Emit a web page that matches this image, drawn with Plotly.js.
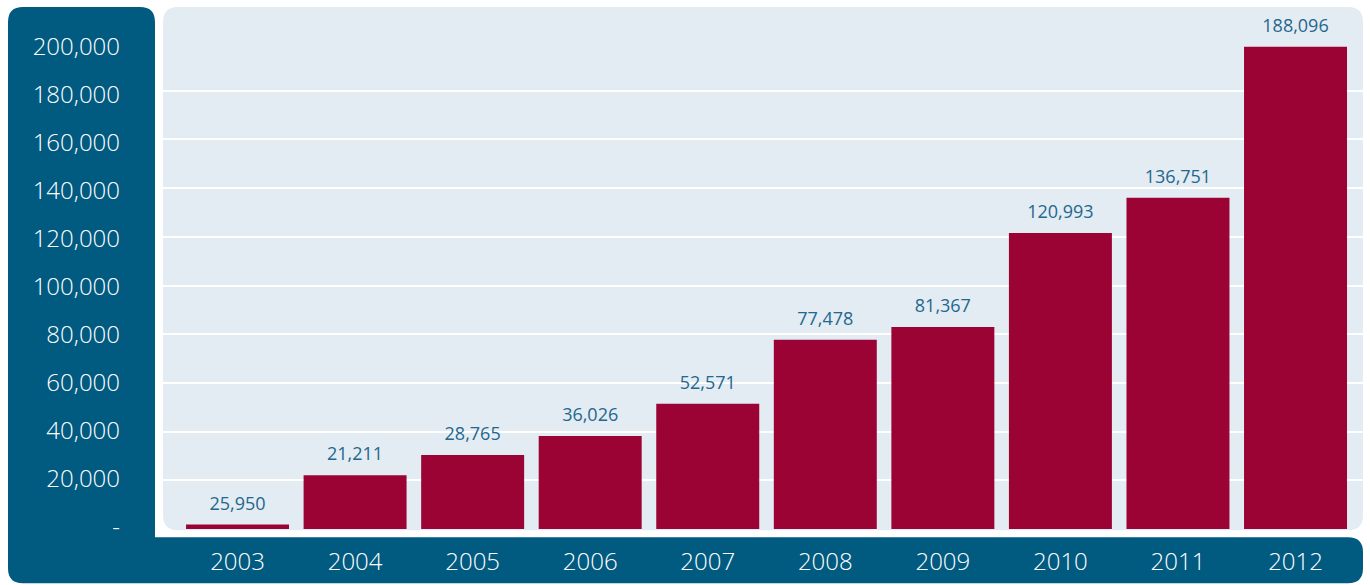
<!DOCTYPE html>
<html>
<head>
<meta charset="utf-8">
<script src="https://cdn.plot.ly/plotly-3.0.1.min.js"></script>
<style>html,body{margin:0;padding:0;background:#fff;overflow:hidden}#chart{width:1370px;height:585px}</style>
</head>
<body>
<div id="chart"></div>
<script>
// Data
var years = ['2003','2004','2005','2006','2007','2008','2009','2010','2011','2012'];
var barHeights = [1800, 22100, 30400, 38200, 51400, 77700, 83000, 121600, 136000, 198000];
var barLabels = ['25,950','21,211','28,765','36,026','52,571','77,478','81,367','120,993','136,751','188,096'];
var yTickVals = [0, 20000, 40000, 60000, 80000, 100000, 120000, 140000, 160000, 180000, 200000];
var yTickText = ['-', '20,000', '40,000', '60,000', '80,000', '100,000', '120,000', '140,000', '160,000', '180,000', '200,000'];

var W = 1370, H = 585;
var L = 163, R = 7, T = 42, B = 56.3;
var pw = W - L - R, ph = H - T - B;
function px(x) { return ((x - L) / pw).toFixed(5); }
function py(y) { return ((H - B - y) / ph).toFixed(5); }
function roundRect(x0, y0, x1, y1, r) {
  return 'M' + px(x0 + r) + ',' + py(y0) +
    ' L' + px(x1 - r) + ',' + py(y0) + ' Q' + px(x1) + ',' + py(y0) + ' ' + px(x1) + ',' + py(y0 + r) +
    ' L' + px(x1) + ',' + py(y1 - r) + ' Q' + px(x1) + ',' + py(y1) + ' ' + px(x1 - r) + ',' + py(y1) +
    ' L' + px(x0 + r) + ',' + py(y1) + ' Q' + px(x0) + ',' + py(y1) + ' ' + px(x0) + ',' + py(y1 - r) +
    ' L' + px(x0) + ',' + py(y0 + r) + ' Q' + px(x0) + ',' + py(y0) + ' ' + px(x0 + r) + ',' + py(y0) + ' Z';
}
var r = 15;
var darkPath =
  'M' + px(8 + r) + ',' + py(7) +
  ' L' + px(155 - r) + ',' + py(7) + ' Q' + px(155) + ',' + py(7) + ' ' + px(155) + ',' + py(7 + r) +
  ' L' + px(155) + ',' + py(537) +
  ' L' + px(1363 - r) + ',' + py(537) + ' Q' + px(1363) + ',' + py(537) + ' ' + px(1363) + ',' + py(537 + r) +
  ' L' + px(1363) + ',' + py(583 - r) + ' Q' + px(1363) + ',' + py(583) + ' ' + px(1363 - r) + ',' + py(583) +
  ' L' + px(8 + r) + ',' + py(583) + ' Q' + px(8) + ',' + py(583) + ' ' + px(8) + ',' + py(583 - r) +
  ' L' + px(8) + ',' + py(7 + r) + ' Q' + px(8) + ',' + py(7) + ' ' + px(8 + r) + ',' + py(7) + ' Z';

var DARK = '#015a80', LIGHT = '#e3ecf2', BAR = '#9c0335', LBL = '#23678f';
var FONT = '"Open Sans", Roboto, sans-serif';

var bars = {
  type: 'bar',
  x: years,
  y: barHeights,
  marker: {color: BAR},
  width: 0.876,
  hoverinfo: 'skip'
};

var labels = {
  type: 'scatter',
  mode: 'markers+text',
  x: years,
  y: barHeights,
  text: barLabels,
  textposition: 'top center',
  marker: {size: 15, opacity: 0},
  textfont: {family: FONT, size: 18, color: LBL},
  cliponaxis: false,
  hoverinfo: 'skip'
};

// invisible trace that only makes the tick-label axis (y2) exist
var tickAxisHolder = {
  type: 'scatter',
  mode: 'markers',
  x: years,
  y: barHeights,
  yaxis: 'y2',
  marker: {size: 1, opacity: 0},
  hoverinfo: 'skip'
};

var layout = {
  width: W, height: H,
  margin: {l: L, r: R, t: T, b: B, pad: 0},
  paper_bgcolor: '#ffffff',
  plot_bgcolor: 'rgba(0,0,0,0)',
  showlegend: false,
  xaxis: {
    type: 'category',
    range: [-0.634, 9.574],
    showgrid: false, zeroline: false, showline: false,
    ticks: '', ticklabelstandoff: 16,
    tickfont: {family: FONT, size: 24, color: '#ffffff', weight: 300},
    fixedrange: true
  },
  yaxis: {
    range: [0, 200000],
    tickvals: yTickVals,
    showticklabels: false,
    showgrid: true, gridcolor: '#ffffff', gridwidth: 2,
    zeroline: false, showline: false, ticks: '',
    fixedrange: true
  },
  yaxis2: {
    overlaying: 'y', side: 'left',
    range: [-917, 201875],
    tickvals: yTickVals, ticktext: yTickText,
    showgrid: false, zeroline: false, showline: false, ticks: '',
    ticklabelstandoff: 42,
    tickfont: {family: FONT, size: 24, color: '#ffffff', weight: 300},
    fixedrange: true
  },
  shapes: [
    {type: 'path', xref: 'paper', yref: 'paper', path: darkPath, fillcolor: DARK, line: {width: 0}, layer: 'below'},
    {type: 'path', xref: 'paper', yref: 'paper', path: roundRect(163, 7, 1363, 530, r), fillcolor: LIGHT, line: {width: 0}, layer: 'below'}
  ]
};

Plotly.newPlot('chart', [bars, labels, tickAxisHolder], layout, {displayModeBar: false, staticPlot: true});
</script>
</body>
</html>
